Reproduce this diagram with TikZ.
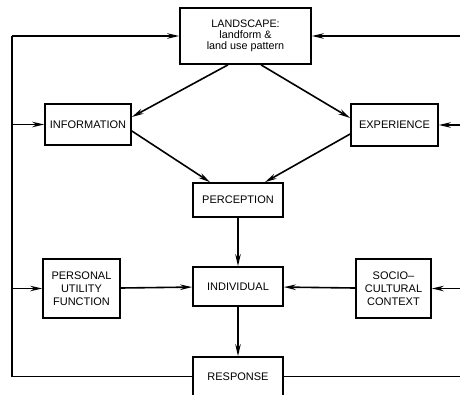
\documentclass[tikz,border=0pt]{standalone}
\usepackage{fontspec}
\setmainfont{Liberation Sans}
\usepackage{tikz}
\usetikzlibrary{arrows.meta,positioning,calc}

\begin{document}
\begin{tikzpicture}[
  x=1pt, y=-1pt,
  box/.style={draw, line width=1.7pt, inner sep=0pt, align=center,
    font=\fontsize{11}{13}\selectfont},
  flow/.style={-{Stealth[length=12pt,width=5.5pt,inset=4pt]}, line width=1.6pt},
  bus/.style={line width=1.6pt}
]
  \useasboundingbox (0,0) rectangle (460,394);

  % Boxes
  \node[box, minimum width=131pt, minimum height=56pt,
    font=\fontsize{10.8}{11.3}\selectfont] (land) at (245.5,36)
    {LANDSCAPE:\\landform \&\\land use pattern};
  \node[box, minimum width=86pt, minimum height=41pt] (info) at (88,124.5) {INFORMATION};
  \node[box, minimum width=87pt, minimum height=42pt] (exper) at (394.5,125) {EXPERIENCE};
  \node[box, minimum width=90pt, minimum height=34pt] (perc) at (238,200) {PERCEPTION};
  \node[box, minimum width=90pt, minimum height=39pt] (indiv) at (238,286.5) {INDIVIDUAL};
  \node[box, minimum width=77pt, minimum height=59pt] (pers) at (81.5,288.5)
    {PERSONAL\\UTILITY\\FUNCTION};
  \node[box, minimum width=75pt, minimum height=59pt] (socio) at (393.5,288.5)
    {SOCIO--\\CULTURAL\\CONTEXT};
  \node[box, minimum width=90pt, minimum height=39pt] (resp) at (238,376.5) {RESPONSE};

  % Main flow
  \draw[flow] ([xshift=-17.5pt]land.south) -- ([yshift=7.5pt]info.east);
  \draw[flow] ([xshift=15.5pt]land.south) -- ([yshift=7pt]exper.west);
  \draw[flow] ([yshift=-6.5pt]info.east) -- ([xshift=-28pt]perc.north);
  \draw[flow] ([yshift=-9pt]exper.west) -- ([xshift=27pt]perc.north);
  \draw[flow] (perc) -- (indiv);
  \draw[flow] (indiv) -- (resp);
  \draw[flow] (pers) -- (indiv);
  \draw[flow] (socio) -- (indiv);

  % Feedback loops
  \coordinate (lb) at (12,376.5);
  \coordinate (lt) at (12,36);
  \coordinate (rb) at (462,376.5);
  \coordinate (rt) at (462,36);
  \draw[bus] (resp.west) -- (lb) -- (lt);
  \draw[flow] (lt) -- (land.west);
  \draw[flow] (lb |- info.west) -- (info.west);
  \draw[flow] (lb |- pers.west) -- (pers.west);
  \draw[bus] (resp.east) -- (rb) -- (rt);
  \draw[flow] (rt) -- (land.east);
  \draw[flow] (rb |- exper.east) -- (exper.east);
  \draw[flow] (rb |- socio.east) -- (socio.east);
\end{tikzpicture}
\end{document}
